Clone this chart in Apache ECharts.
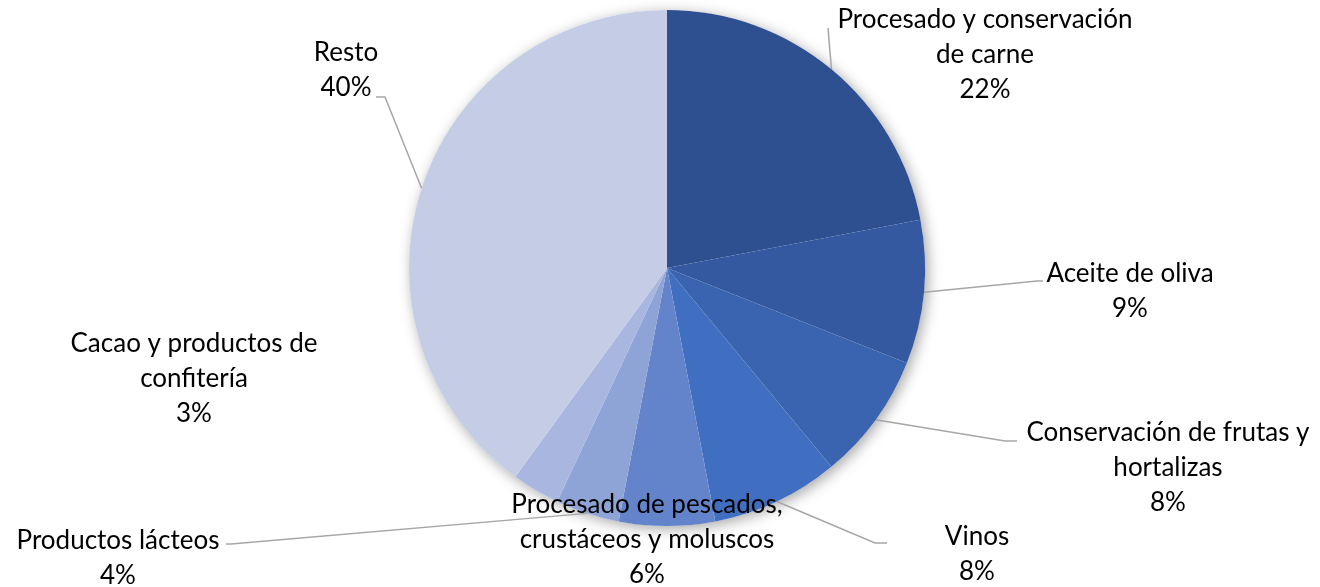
<!DOCTYPE html>
<html>
<head>
<meta charset="utf-8">
<script src="https://cdn.jsdelivr.net/npm/echarts@6/dist/echarts.min.js"></script>
<style>
html, body { margin: 0; padding: 0; background: #fff; }
#main { width: 1320px; height: 587px; }
</style>
</head>
<body>
<div id="main"></div>
<script>
/* global echarts */
// sectores (orden horario desde las 12)
var categories = [
    'Procesado y conservación\nde carne',
    'Aceite de oliva',
    'Conservación de frutas y\nhortalizas',
    'Vinos',
    'Procesado de pescados,\ncrustáceos y moluscos',
    'Productos lácteos',
    'Cacao y productos de\nconfitería',
    'Resto'
];
var shares = [22, 9, 8, 8, 6, 4, 3, 40];
var sliceColors = ['#2f5090', '#3459a0', '#3a63b0', '#406ec0', '#6384cb', '#8ea3d6', '#a9b7e0', '#c5cde6'];

// donde va cada etiqueta (centro del bloque de texto)
var labelCenters = [[985, 55], [1130, 291], [1168, 468], [977, 554], [647, 540], [118, 558], [194, 379], [346, 70]];
// tramos finales de las lineas guia (null = sin linea)
var guideEnds = [
    [[828, 28]],
    [[1037, 281], [1043, 281]],
    [[1005, 441], [1017, 441]],
    [[875, 543], [887, 543]],
    null,
    [[231, 544], [226, 544]],
    null,
    [[385, 97], [376, 97]]
];

var myChart = echarts.init(document.getElementById('main'));

var pieData = [];
for (var i = 0; i < categories.length; i++) {
    var item = {name: categories[i], value: shares[i], itemStyle: {color: sliceColors[i]}};
    if (!guideEnds[i]) {
        item.labelLine = {show: false};
    }
    pieData.push(item);
}

var option = {
    backgroundColor: '#fff',
    animation: false,
    series: [
        {
            // sombra del circulo
            type: 'pie',
            silent: true,
            z: 1,
            center: [667, 268],
            radius: 258,
            label: {show: false},
            labelLine: {show: false},
            itemStyle: {
                color: '#fff',
                shadowBlur: 14,
                shadowColor: 'rgba(0,0,0,0.35)',
                shadowOffsetX: 3,
                shadowOffsetY: 3
            },
            data: [{value: 1}]
        },
        {
            type: 'pie',
            z: 2,
            center: [667, 268],
            radius: 258,
            startAngle: 90,
            clockwise: true,
            avoidLabelOverlap: false,
            itemStyle: {
                borderWidth: 0
            },
            label: {
                show: true,
                position: 'outside',
                fontFamily: 'Lato',
                fontSize: 26,
                lineHeight: 35,
                color: '#000',
                align: 'center',
                formatter: function (p) {
                    return p.name + '\n' + p.value + '%';
                }
            },
            labelLine: {
                show: true,
                lineStyle: {color: '#a6a6a6', width: 1.5}
            },
            labelLayout: function (params) {
                var idx = params.dataIndex;
                var c = labelCenters[idx];
                var res = {x: c[0], y: c[1], align: 'center', verticalAlign: 'middle'};
                if (guideEnds[idx] && params.labelLinePoints) {
                    res.labelLinePoints = [params.labelLinePoints[0]].concat(guideEnds[idx]);
                }
                return res;
            },
            data: pieData
        }
    ]
};
myChart.setOption(option);
</script>
</body>
</html>
